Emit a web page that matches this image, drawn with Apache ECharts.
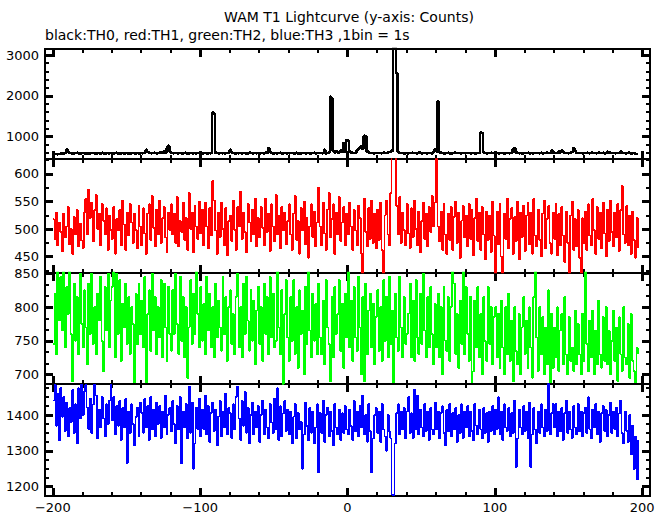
<!DOCTYPE html>
<html><head><meta charset="utf-8">
<script src="https://cdn.jsdelivr.net/npm/echarts@6/dist/echarts.min.js"></script>
<style>html,body{margin:0;padding:0;background:#fff}#c{width:669px;height:515px}#c svg path,#c svg line,#c svg polyline{shape-rendering:crispEdges}</style>
</head><body><div id="c"></div>
<script>
// time of first bin (s), 1 bin = 1 s
const START_TIME = -200;

const TH0 = [
572,575,570,578,582,588,596,592,600,688,640,602,594,588,600,596,610,592,586,598,
604,590,582,596,588,600,606,594,580,592,602,588,596,610,590,584,598,592,602,590,
586,598,608,594,582,590,600,596,588,602,594,580,592,604,598,586,600,594,590,598,
592,606,598,680,630,604,592,600,610,596,588,602,614,606,620,640,598,702,780,636,
600,594,606,598,590,604,596,588,600,610,594,586,598,606,592,600,588,596,604,592,
598,590,604,596,588,600,594,606,1590,1560,610,596,588,602,594,600,590,606,598,604,
680,612,596,588,600,594,606,590,598,604,592,586,600,610,596,588,602,594,600,590,
596,604,588,600,612,598,720,640,596,588,604,592,600,596,610,590,598,604,588,600,
594,606,598,588,600,612,594,586,602,596,608,590,600,594,588,602,596,610,592,600,
598,606,590,602,680,594,600,620,1980,1940,640,604,650,620,606,660,630,842,640,920,
900,640,612,600,596,608,660,700,740,760,700,1025,1000,640,610,598,604,592,600,606,
596,604,590,602,612,598,606,620,628,640,660,3200,3180,2560,640,604,596,610,592,600,
588,602,596,610,594,600,588,604,612,598,590,606,600,594,602,596,610,588,640,700,
640,1870,620,604,596,590,606,600,612,594,588,602,610,596,600,606,590,598,604,592,
600,596,610,592,604,598,588,602,600,614,1110,1090,612,598,590,604,596,608,600,592,
598,604,590,602,596,610,588,600,606,594,602,598,680,720,620,600,594,608,590,602,
596,604,610,592,600,588,602,596,606,594,600,610,590,604,598,620,602,596,660,610,
598,606,600,640,612,660,620,598,604,590,602,614,630,720,660,606,596,604,600,592,
604,598,610,594,600,612,596,602,590,606,620,600,596,608,590,604,632,612,598,606,
600,592,606,596,610,640,602,598,590,604,612,596,588,600,604,580,570,566];

const TH1 = [
518,482,530,470,512,495,460,528,485,505,540,472,500,455,522,490,535,468,510,480,
465,530,555,490,572,520,548,478,535,562,500,528,470,545,515,490,538,462,525,498,
482,540,455,518,497,535,470,552,508,462,530,488,545,512,475,528,498,465,542,505,
470,538,492,455,528,545,480,560,502,468,535,490,552,475,520,540,485,458,530,498,
545,490,528,475,558,468,515,495,548,480,520,462,565,500,530,458,542,505,482,550,
492,535,470,548,505,465,538,488,587,552,498,455,530,485,548,500,470,538,452,515,
525,478,552,498,462,540,505,568,482,530,495,458,545,512,478,535,490,555,468,520,
485,540,502,470,555,495,528,460,545,505,478,562,490,525,465,540,498,530,472,515,
545,490,462,528,560,480,515,455,538,498,550,472,520,448,505,545,485,532,468,512,
575,505,470,548,492,462,535,565,485,518,545,455,530,490,558,478,512,540,470,528,
490,548,505,462,535,498,470,542,520,455,418,555,495,468,538,482,552,475,528,465,
535,480,548,462,418,525,552,490,470,565,640,640,635,542,490,558,475,530,498,470,
545,492,465,538,485,552,500,470,532,458,515,548,482,528,468,540,495,560,505,548,
640,505,478,532,462,545,490,455,528,480,540,462,522,550,475,530,448,515,542,485,
525,468,545,482,535,452,520,555,478,530,462,540,490,445,532,480,525,458,550,488,
418,532,472,545,450,418,528,482,555,465,518,538,455,522,478,550,445,530,485,542,
460,525,548,472,530,455,555,488,468,535,480,450,528,552,465,518,542,475,455,530,
482,545,452,528,470,540,488,440,532,475,418,525,550,462,518,468,535,448,418,520,
475,532,462,545,488,470,555,498,455,540,482,530,465,548,492,450,535,478,552,495,
468,530,485,545,460,535,578,490,475,542,470,525,455,532,480,448,520,465];

const TH2 = [
745,820,730,855,780,845,765,860,740,830,790,855,760,690,835,750,815,730,850,775,
740,825,770,715,835,760,850,745,800,730,820,780,845,750,705,830,765,850,740,810,
830,855,725,850,760,840,720,805,770,835,745,815,730,800,775,688,820,745,835,760,
810,740,845,688,790,825,735,850,765,815,730,800,755,840,725,835,770,720,830,760,
735,825,760,850,775,730,845,750,815,725,800,695,770,840,745,820,760,855,790,740,
830,750,805,730,845,765,820,740,800,725,835,755,810,770,735,845,760,815,720,800,
825,745,790,730,815,850,740,800,725,835,760,845,780,735,825,750,810,715,795,830,
745,800,720,835,760,815,730,845,755,820,740,750,860,770,730,825,686,790,840,755,
720,815,750,840,730,800,710,825,760,795,700,830,745,855,765,725,820,750,805,730,
835,755,730,810,715,840,770,745,690,815,725,830,760,790,840,735,805,710,820,755,
855,740,810,720,830,755,735,845,770,700,815,690,835,730,795,820,740,805,715,785,
825,735,800,720,840,750,815,725,845,745,795,688,820,755,735,845,770,725,815,745,
760,790,835,725,810,720,840,755,730,820,745,850,765,725,815,740,830,760,715,805,
740,820,725,800,700,830,750,735,815,720,800,858,835,730,790,710,810,745,855,730,
830,760,720,815,688,705,810,740,830,725,790,700,815,750,720,830,745,800,715,785,
800,725,790,710,810,740,700,800,730,820,720,780,690,800,735,715,790,700,770,815,
730,780,710,800,740,695,815,858,755,705,800,730,785,700,770,715,825,688,790,710,
770,725,800,705,765,790,715,815,730,700,785,720,740,705,795,715,775,730,700,790,
720,856,745,705,780,725,795,700,765,715,810,730,710,785,720,800,715,765,700,750,
795,720,770,690,785,730,705,800,725,715,775,695,790,720,705,688,740,730];

const TH3 = [
1440,1485,1370,1460,1330,1475,1395,1450,1355,1435,1340,1420,1380,1470,1350,1430,1320,1475,1390,1485,
1400,1465,1485,1420,1360,1445,1350,1430,1485,1455,1335,1415,1365,1450,1390,1340,1430,1375,1440,1485,
1385,1450,1345,1425,1370,1440,1330,1420,1365,1445,1266,1410,1350,1430,1375,1315,1395,1420,1340,1435,
1405,1350,1445,1365,1425,1330,1450,1360,1415,1340,1435,1375,1425,1335,1410,1365,1455,1345,1400,1420,
1355,1440,1375,1320,1425,1360,1450,1265,1410,1365,1430,1335,1480,1350,1435,1250,1320,1420,1360,1445,
1340,1415,1360,1455,1345,1425,1325,1405,1435,1355,1415,1315,1395,1440,1340,1410,1365,1460,1345,1420,
1405,1335,1430,1360,1450,1480,1390,1330,1440,1370,1465,1350,1420,1320,1400,1435,1345,1410,1365,1425,
1325,1400,1440,1345,1415,1365,1335,1430,1380,1350,1445,1360,1475,1330,1425,1340,1405,1440,1355,1415,
1345,1410,1320,1395,1430,1335,1405,1360,1380,1250,1345,1435,1370,1330,1420,1350,1410,1320,1365,1430,
1240,1405,1350,1440,1325,1400,1420,1340,1410,1355,1315,1430,1365,1345,1415,1330,1405,1350,1425,1360,
1345,1415,1370,1330,1440,1355,1410,1340,1425,1365,1455,1345,1400,1325,1430,1355,1240,1335,1400,1420,
1350,1410,1325,1430,1360,1340,1300,1400,1355,1335,1178,1175,1320,1405,1430,1345,1410,1360,1420,1335,
1410,1450,1350,1405,1335,1470,1360,1455,1345,1415,1365,1340,1430,1355,1410,1330,1420,1360,1345,1435,
1360,1410,1335,1405,1425,1350,1315,1415,1355,1430,1340,1405,1360,1420,1325,1400,1350,1430,1335,1410,
1365,1425,1340,1410,1355,1330,1430,1370,1345,1415,1360,1335,1420,1350,1405,1325,1410,1355,1425,1345,
1415,1360,1450,1345,1410,1330,1430,1365,1355,1420,1340,1405,1350,1440,1255,1335,1415,1365,1345,1425,
1355,1410,1335,1435,1255,1345,1420,1360,1320,1410,1350,1430,1365,1340,1415,1355,1488,1345,1405,1430,
1365,1430,1340,1410,1355,1420,1330,1405,1440,1350,1410,1360,1335,1425,1365,1345,1430,1355,1410,1340,
1405,1420,1350,1450,1360,1335,1415,1365,1430,1345,1410,1325,1405,1425,1355,1415,1340,1400,1435,1350,
1410,1360,1420,1340,1405,1440,1350,1320,1410,1355,1325,1400,1290,1370,1250,1340,1220,1330];

const SERIES_NAMES = ['TH0', 'TH1', 'TH2', 'TH3'];
const SERIES_VALUES = [TH0, TH1, TH2, TH3];

const X_LABELS = [-200, -100, 0, 100, 200];
const X_MINOR = [-200,-180,-160,-140,-120,-100,-80,-60,-40,-20,0,20,40,60,80,100,120,140,160,180,200];
const Y_LABELS = [
  [1000, 2000, 3000],
  [450, 500, 550, 600],
  [700, 750, 800, 850],
  [1200, 1300, 1400]
];
const Y_MINOR = [
  [600,800,1000,1200,1400,1600,1800,2000,2200,2400,2600,2800,3000],
  [425,450,475,500,525,550,575,600,625],
  [700,716.67,733.33,750,766.67,783.33,800,816.67,833.33,850],
  [1200,1225,1250,1275,1300,1325,1350,1375,1400,1425,1450,1475]
];
const Y_RANGE = [[454, 3147], [421.3, 627], [686, 851.2], [1174, 1486.5]];
const X_RANGE = [-205.3, 205.3];

const TITLE = 'WAM T1 Lightcurve (y-axis: Counts)';
const SUBTITLE = 'black:TH0, red:TH1, green:TH2, blue:TH3 ,1bin = 1s';

// ---------------- chart -----------------
const COLORS = ['#000000', '#ff0000', '#00ff00', '#0000ff'];
const FONT = 'DejaVu Sans';
const GRIDS = [
  {left: 45, width: 605, top: 49, height: 110},
  {left: 45, width: 605, top: 159, height: 113.5},
  {left: 45, width: 605, top: 272.5, height: 111.5},
  {left: 45, width: 605, top: 384, height: 112}
];
const minus = v => String(v).replace('-', '\u2212');

const xAxes = [], yAxes = [], series = [];
for (let g = 0; g < 4; g++) {
  for (const pos of ['bottom', 'top']) {
    xAxes.push({
      type: 'value', gridIndex: g, position: pos, min: X_RANGE[0], max: X_RANGE[1],
      axisLine: {show: true, onZero: false, lineStyle: {color: '#000', width: 2}},
      axisTick: {show: true, inside: true, length: 4, customValues: X_MINOR, lineStyle: {color: '#000', width: 1.5}},
      axisLabel: {show: g === 3 && pos === 'bottom', customValues: X_LABELS, formatter: minus,
        fontFamily: FONT, fontSize: 13, color: '#000', margin: 5},
      splitLine: {show: false}
    });
    xAxes.push({
      type: 'value', gridIndex: g, position: pos, min: X_RANGE[0], max: X_RANGE[1],
      axisLine: {show: false, onZero: false},
      axisTick: {show: true, inside: true, length: 8, customValues: X_LABELS, lineStyle: {color: '#000', width: 2.5}},
      axisLabel: {show: false, customValues: X_LABELS},
      splitLine: {show: false}
    });
  }
  for (const pos of ['left', 'right']) {
    yAxes.push({
      type: 'value', gridIndex: g, position: pos, min: Y_RANGE[g][0], max: Y_RANGE[g][1],
      axisLine: {show: true, onZero: false, lineStyle: {color: '#000', width: 2}},
      axisTick: {show: true, inside: true, length: 4, customValues: Y_MINOR[g], lineStyle: {color: '#000', width: 1.5}},
      axisLabel: {show: pos === 'left', customValues: Y_LABELS[g], formatter: v => String(v),
        fontFamily: FONT, fontSize: 13, color: '#000', margin: 6},
      splitLine: {show: false}
    });
    yAxes.push({
      type: 'value', gridIndex: g, position: pos, min: Y_RANGE[g][0], max: Y_RANGE[g][1],
      axisLine: {show: false, onZero: false},
      axisTick: {show: true, inside: true, length: 8, customValues: Y_LABELS[g], lineStyle: {color: '#000', width: 2.5}},
      axisLabel: {show: false, customValues: Y_LABELS[g]},
      splitLine: {show: false}
    });
  }
  series.push({
    name: SERIES_NAMES[g], type: 'line', step: 'end',
    xAxisIndex: g * 4, yAxisIndex: g * 4,
    data: SERIES_VALUES[g].map((v, i) => [START_TIME + i, v]),
    showSymbol: false, clip: true,
    lineStyle: {color: COLORS[g], width: g === 0 ? 2.6 : 1.5},
    z: 1
  });
}

const chart = echarts.init(document.getElementById('c'), null, {renderer: 'svg'});
chart.setOption({
  animation: false,
  backgroundColor: '#fff',
  grid: GRIDS,
  xAxis: xAxes,
  yAxis: yAxes,
  series: series,
  graphic: [
    {type: 'text', x: 349, y: 17, style: {text: TITLE, font: '14px "DejaVu Sans"', fill: '#000', align: 'center', verticalAlign: 'middle', textAlign: 'center', textVerticalAlign: 'middle'}},
    {type: 'text', x: 45, y: 35, style: {text: SUBTITLE, font: '14px "DejaVu Sans"', fill: '#000', align: 'left', verticalAlign: 'middle', textAlign: 'left', textVerticalAlign: 'middle'}}
  ]
});
</script>
</body></html>
